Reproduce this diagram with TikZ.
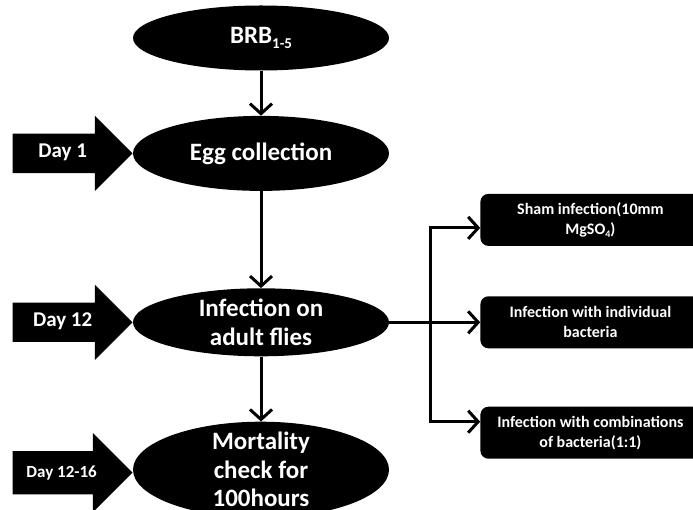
\documentclass[tikz,border=0pt]{standalone}
\usepackage{fontspec}
\setmainfont{Carlito}
\usetikzlibrary{shapes.geometric, shapes.arrows, arrows.meta}
\usetikzlibrary{positioning}
\tikzstyle{stage} = [ellipse, fill=black, text=white, minimum width=256pt, inner sep=0pt, align=center, font=\bfseries\fontsize{25}{29.5}\selectfont]
\tikzstyle{day} = [single arrow, single arrow head extend=18pt, fill=black, text=white, minimum height=120pt, text height=14pt, text depth=5pt, inner ysep=10pt, font=\bfseries\fontsize{21}{25}\selectfont]
\tikzstyle{treat} = [rectangle, rounded corners=8pt, fill=black, text=white, minimum width=220pt, minimum height=52pt, align=center, font=\bfseries\fontsize{16}{20}\selectfont]
\tikzstyle{arrow} = [line width=3pt, -{Straight Barb[length=10pt, width=22pt]}]

\begin{document}
\begin{tikzpicture}
                    \useasboundingbox (0,0) rectangle (693pt,-510pt);
                    \clip (0,0) rectangle (693pt,-510pt);
                    \node (brb) [stage, minimum height=65pt] at (261pt,-38pt) {BRB\raisebox{-5pt}{\fontsize{15}{15}\selectfont 1-5}};
                    \node (egg) [stage, minimum height=75pt, below=45pt of brb] {Egg collection};
                    \node (infect) [stage, minimum height=68pt, inner ysep=-5pt, below=97pt of egg] {Infection on\\adult flies};
                    \node (mort) [stage, minimum height=96pt, inner ysep=-10pt, below=65pt of infect, font=\bfseries\fontsize{25}{28.5}\selectfont] {Mortality\\check for\\100hours};
                    \node (day1) [day, anchor=tip] at (egg.west) {Day 1};
                    \node (day12) [day, anchor=tip] at (infect.west) {Day 12};
                    \node (day1216) [day, anchor=tip, inner ysep=12pt, font=\bfseries\fontsize{17}{20}\selectfont] at ([yshift=-3pt]mort.west) {Day 12-16};
                    \node (indiv) [treat, right=91pt of infect] {Infection with individual\\bacteria};
                    \node (sham) [treat, above=50pt of indiv] {Sham infection(10mm\\MgSO\raisebox{-3pt}{\fontsize{10}{10}\selectfont 4})};
                    \node (combo) [treat, below=58pt of indiv] {Infection with combinations\\of bacteria(1:1)};
                    \coordinate [right=41pt of infect] (split);
                    \draw [arrow] (brb) -- (egg);
                    \draw [arrow] (egg) -- (infect);
                    \draw [arrow] (infect) -- (mort);
                    \draw [arrow] (infect) -- (indiv);
                    \draw [arrow] (split) |- ([yshift=-8pt]sham.west);
                    \draw [arrow] (split) |- ([yshift=11pt]combo.west);
                \end{tikzpicture}
\end{document}
